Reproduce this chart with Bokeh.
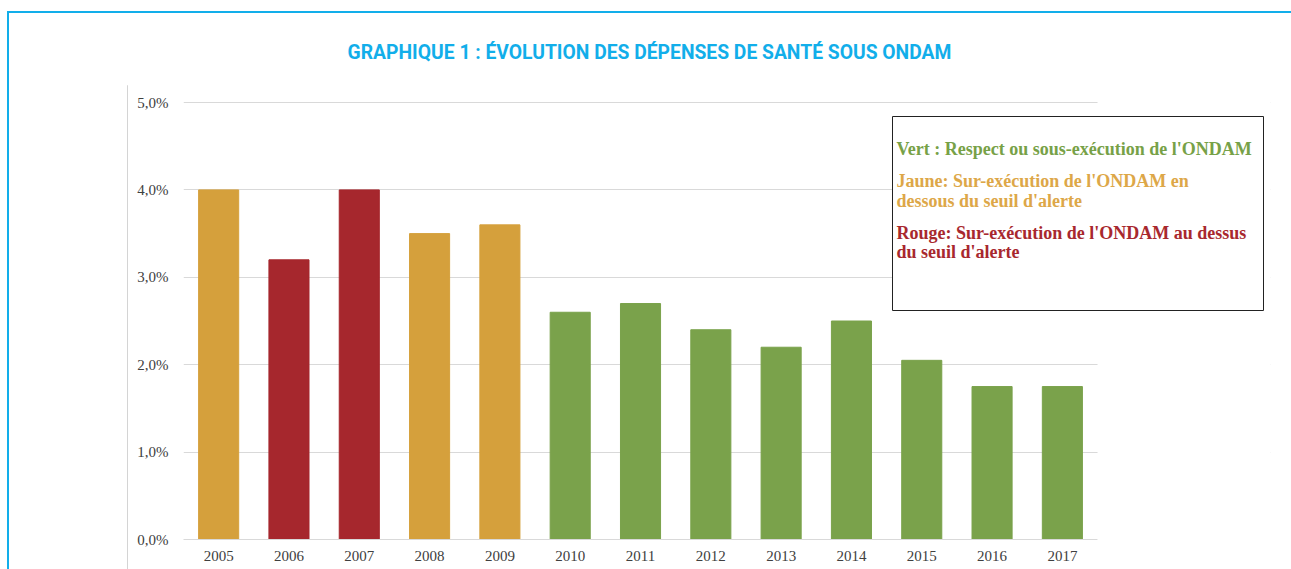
from bokeh.plotting import figure
from bokeh.layouts import column
from bokeh.models import FixedTicker, BoxAnnotation, Label, Range1d, ColumnDataSource
from bokeh.embed import file_html
from bokeh.resources import INLINE

# ---- data ----
years = ["2005", "2006", "2007", "2008", "2009", "2010", "2011",
         "2012", "2013", "2014", "2015", "2016", "2017"]
values = [4.0, 3.2, 4.0, 3.5, 3.6, 2.6, 2.7, 2.4, 2.2, 2.5, 2.05, 1.75, 1.75]
status = ["Jaune", "Rouge", "Rouge", "Jaune", "Jaune", "Vert", "Vert",
          "Vert", "Vert", "Vert", "Vert", "Vert", "Vert"]
y_ticks = [0, 1, 2, 3, 4, 5]
y_tick_labels = ["0,0%", "1,0%", "2,0%", "3,0%", "4,0%", "5,0%"]
title_text = "GRAPHIQUE 1 : ÉVOLUTION DES DÉPENSES DE SANTÉ SOUS ONDAM"
legend_lines = ["Vert : Respect ou sous-exécution de l'ONDAM",
                "Jaune:  Sur-exécution de l'ONDAM en",
                "dessous du seuil d'alerte",
                "Rouge: Sur-exécution de l'ONDAM au dessus",
                "du seuil d'alerte"]
legend_status = ["Vert", "Jaune", "Jaune", "Rouge", "Rouge"]

# ---- styles ----
status_colors = {"Vert": "#7AA24B", "Jaune": "#D5A03C", "Rouge": "#A6272D"}
text_colors = {"Vert": "#77A147", "Jaune": "#DDA748", "Rouge": "#A8282E"}
CYAN = "#12AEEA"
W, H = 1282, 556          # canvas placed at page (9, 13)
OX, OY = 9, 13            # page offset of canvas
STEP = 70.31              # px per category
PX_PER_PCT = 87.4         # px per 1 %

pos = list(range(len(years)))
src = ColumnDataSource(dict(x=pos, value=values,
                            color=[status_colors[s] for s in status]))

frame_left, frame_right = 183 - OX, 1270 - OX
frame_top, frame_bottom = 101 - OY, 539 - OY
x_end = -0.5 + (frame_right - frame_left) / STEP
y_end = max(y_ticks) + 1.0 / PX_PER_PCT   # keep the top grid line inside the frame

p = figure(width=W, height=H, x_range=Range1d(-0.5, x_end), y_range=Range1d(0, y_end),
           output_backend="svg", toolbar_location=None, title=None,
           min_border_left=frame_left, min_border_right=W - frame_right,
           min_border_top=frame_top, min_border_bottom=H - frame_bottom)

p.vbar(x="x", top="value", width=0.57, source=src,
       fill_color="color", line_color="color")

# axes
p.yaxis.ticker = FixedTicker(ticks=y_ticks)
p.yaxis.major_label_overrides = {t: l for t, l in zip(y_ticks, y_tick_labels)}
p.yaxis.axis_line_color = None
p.yaxis.major_tick_line_color = None
p.yaxis.minor_tick_line_color = None
p.yaxis.major_tick_out = 0
p.yaxis.major_tick_in = 0
p.yaxis.major_label_standoff = 15
p.yaxis.major_label_text_font = "Liberation Serif"
p.yaxis.major_label_text_font_size = "15px"
p.yaxis.major_label_text_color = "#404040"

p.xaxis.ticker = FixedTicker(ticks=pos)
p.xaxis.major_label_overrides = {i: y for i, y in zip(pos, years)}
p.xaxis.bounds = (-0.5, len(years) - 0.5)
p.xaxis.axis_line_color = "#d9d9d9"
p.xaxis.major_tick_line_color = None
p.xaxis.minor_tick_line_color = None
p.xaxis.major_tick_out = 0
p.xaxis.major_tick_in = 0
p.xaxis.major_label_standoff = 11
p.xaxis.major_label_text_font = "Liberation Serif"
p.xaxis.major_label_text_font_size = "15px"
p.xaxis.major_label_text_color = "#404040"

p.xgrid.grid_line_color = None
p.ygrid.grid_line_color = "#d9d9d9"
p.outline_line_color = None

# blank area right of the last category (grid lines stop there)
p.add_layout(BoxAnnotation(left=len(years) - 0.5, fill_color="white",
                           fill_alpha=1, line_alpha=0))

# legend box
p.add_layout(BoxAnnotation(left=892 - OX, right=1263 - OX, top=116 - OY, bottom=310 - OY,
                           left_units="canvas", right_units="canvas",
                           top_units="canvas", bottom_units="canvas",
                           fill_color="white", fill_alpha=1,
                           line_color="#222222", line_width=1, line_alpha=1))
legend_y = [148, 180, 200, 232, 251]
for txt, st, yy in zip(legend_lines, legend_status, legend_y):
    p.add_layout(Label(x=896 - OX, y=yy - OY, x_units="canvas", y_units="canvas",
                       text=txt, text_font="Liberation Serif",
                       text_font_style="bold", text_font_size="18px",
                       text_color=text_colors[st], text_baseline="middle"))

# title (above the frame)
p.add_layout(Label(x=649 - OX, y=52 - OY, x_units="canvas", y_units="canvas",
                   text=title_text, text_font="Roboto", text_font_style="bold",
                   text_font_size="19.3px", text_color=CYAN,
                   text_align="center", text_baseline="middle"), "above")

# thin grey separator at the left of the chart area (empty text box with border)
p.add_layout(Label(x=127 - OX, y=85 - OY, x_units="canvas", y_units="canvas",
                   text="\n" * 25, text_font_size="16px", text_line_height=1.2,
                   text_align="left", text_baseline="top",
                   border_line_color="#d4d4d4", border_line_width=1,
                   text_color="#d4d4d4"), "left")

root = column(p, styles={"border-top": f"2px solid {CYAN}",
                         "border-left": f"2px solid {CYAN}",
                         "margin-left": "7px", "margin-top": "11px"})

open("out.html", "w").write(file_html(root, INLINE))
